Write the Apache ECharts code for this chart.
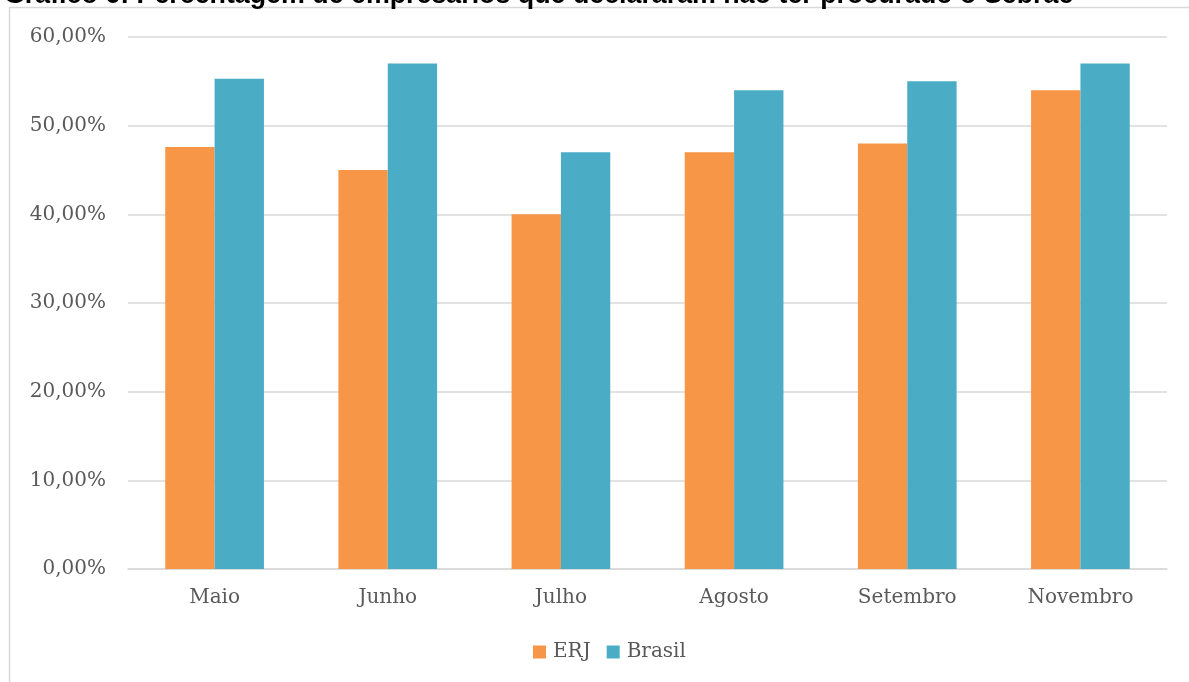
<!DOCTYPE html>
<html>
<head>
<meta charset="utf-8">
<script src="https://cdn.jsdelivr.net/npm/echarts@6/dist/echarts.min.js"></script>
<style>html,body{margin:0;padding:0;background:#fff;}#c{width:1189px;height:682px;}</style>
</head>
<body>
<div id="c"></div>
<script>
const titleText = 'Gráfico 6: Percentagem de empresários que declararam não ter procurado o Sebrae';
const categories = ['Maio', 'Junho', 'Julho', 'Agosto', 'Setembro', 'Novembro'];
const erj = [47.6, 45.0, 40.0, 47.0, 48.0, 54.0];
const brasil = [55.3, 57.0, 47.0, 54.0, 55.0, 57.0];
const seriesNames = ['ERJ', 'Brasil'];

const chart = echarts.init(document.getElementById('c'), null, {renderer: 'canvas'});
const serif = '"DejaVu Serif", "Liberation Serif", serif';
chart.setOption({
  animation: false,
  backgroundColor: '#ffffff',
  title: {
    text: titleText,
    left: 4, top: -18, padding: 0,
    textStyle: {fontFamily: '"Liberation Sans", Arial, sans-serif', fontWeight: 'bold', fontSize: 26.8, color: '#000'}
  },
  graphic: [{
    type: 'rect', silent: true, z: -1,
    shape: {x: 9.5, y: 7.5, width: 1300, height: 800},
    style: {fill: 'none', stroke: '#d9d9d9', lineWidth: 1.5}
  }],
  grid: {left: 128, right: 22, top: 37, bottom: 113, containLabel: false},
  legend: {
    data: seriesNames,
    left: 528, top: 637,
    itemWidth: 13, itemHeight: 13, itemGap: 16,
    icon: 'rect',
    textStyle: {fontFamily: serif, fontSize: 20, color: '#595959', padding: [0, 0, 0, 2]}
  },
  xAxis: {
    type: 'category', data: categories,
    axisLine: {lineStyle: {color: '#d9d9d9', width: 1.5}},
    axisTick: {show: false},
    axisLabel: {fontFamily: serif, fontSize: 20, color: '#595959', margin: 19}
  },
  yAxis: {
    type: 'value', min: 0, max: 60, interval: 10,
    axisLine: {show: false}, axisTick: {show: false},
    splitLine: {lineStyle: {color: '#d9d9d9', width: 1.5}},
    axisLabel: {
      fontFamily: serif, fontSize: 20, color: '#595959', margin: 22,
      formatter: v => v.toFixed(2).replace('.', ',') + '%'
    }
  },
  series: [
    {name: seriesNames[0], type: 'bar', data: erj, barGap: '0%', barCategoryGap: '43%',
     itemStyle: {color: '#F79646'}},
    {name: seriesNames[1], type: 'bar', data: brasil, barGap: '0%', barCategoryGap: '43%',
     itemStyle: {color: '#4BACC6'}}
  ]
});
</script>
</body>
</html>
